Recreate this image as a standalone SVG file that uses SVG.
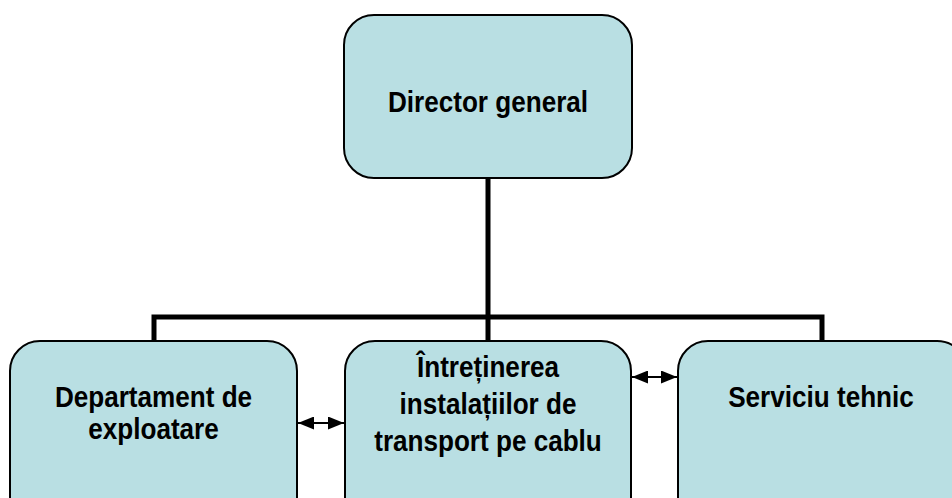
<svg xmlns="http://www.w3.org/2000/svg" width="952" height="498" viewBox="0 0 952 498">
<defs>
<style>
.box{fill:#B9DFE3;stroke:#000;stroke-width:2}
.lbl{font-family:"Liberation Sans",Arial,sans-serif;font-weight:bold;font-size:30px;fill:#000;text-anchor:middle}
.trunk{fill:none;stroke:#000;stroke-width:5}
.link{fill:none;stroke:#000;stroke-width:2;marker-start:url(#ah);marker-end:url(#ah)}
</style>
<marker id="ah" viewBox="0 0 16 13" refX="16" refY="6.5" markerWidth="8" markerHeight="6.5" markerUnits="strokeWidth" orient="auto-start-reverse">
<path d="M0,0 L16,6.5 L0,13 Z" fill="#000"/>
</marker>
</defs>
<rect width="952" height="498" fill="#fff"/>
<g id="connectors">
<path class="trunk" d="M488,178 V317 M154,341 V317 H822 V341 M488,317 V341"/>
<line class="link" x1="298" y1="423" x2="344" y2="423"/>
<line class="link" x1="632" y1="377" x2="677" y2="377"/>
</g>
<g id="director">
<rect class="box" x="344" y="15" width="288" height="163" rx="30"/>
<text class="lbl" transform="translate(488,112) scale(0.87,1)">Director general</text>
</g>
<g id="departament">
<rect class="box" x="10" y="341" width="287" height="200" rx="30"/>
<text class="lbl" transform="translate(153.5,407) scale(0.87,1)">Departament de</text>
<text class="lbl" transform="translate(153.5,439) scale(0.87,1)">exploatare</text>
</g>
<g id="intretinerea">
<rect class="box" x="345" y="341" width="286" height="200" rx="30"/>
<text class="lbl" transform="translate(488,377) scale(0.87,1)">Întreținerea</text>
<text class="lbl" transform="translate(488,414) scale(0.87,1)">instalațiilor de</text>
<text class="lbl" transform="translate(488,451) scale(0.87,1)">transport pe cablu</text>
</g>
<g id="serviciu">
<rect class="box" x="678" y="341" width="289" height="200" rx="30"/>
<text class="lbl" transform="translate(821,407) scale(0.87,1)">Serviciu tehnic</text>
</g>
</svg>
